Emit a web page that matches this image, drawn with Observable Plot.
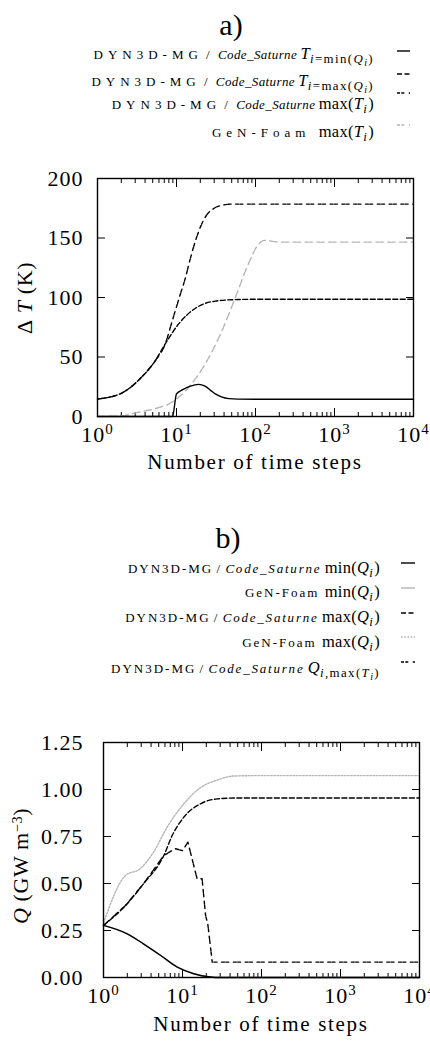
<!DOCTYPE html>
<html><head><meta charset="utf-8">
<script src="https://cdn.jsdelivr.net/npm/d3@7"></script>
<script src="https://cdn.jsdelivr.net/npm/@observablehq/plot@0.6"></script>
<style>
body{margin:0;background:#fff;}
#page{position:relative;width:430px;height:1043px;overflow:hidden;font-family:"Liberation Serif",serif;color:#000;background:#fff;}
.t{position:absolute;white-space:nowrap;}
.title{font-size:30px;line-height:30px;transform:translateX(-50%);}
.xl{font-size:21px;line-height:21px;letter-spacing:1.7px;transform:translateX(-50%);}
.yl{font-size:22px;line-height:22px;letter-spacing:0.6px;transform:translate(-50%,-50%) rotate(-90deg);}
.leg{font-size:13px;line-height:13px;text-align:right;}
.legA .r{letter-spacing:5px;}
.legB .r{letter-spacing:2px;}
.leg .c{letter-spacing:0.4px;}
.legB .c{letter-spacing:1.8px;}
.leg .m{font-size:16.5px;letter-spacing:0.3px;}
.leg sub{font-size:78%;position:relative;top:0.3em;vertical-align:baseline;letter-spacing:1.4px;}
.sw{position:absolute;}
.plot{position:absolute;left:0;}
sup.s{font-size:65%;position:relative;top:-0.45em;vertical-align:baseline;}
</style></head>
<body><div id="page"></div>
<script>
// ---------- data ----------
const xMajor = [1, 10, 100, 1000, 10000];
const xMinor = [2,3,4,5,6,7,8,9,20,30,40,50,60,70,80,90,200,300,400,500,600,700,800,900,2000,3000,4000,5000,6000,7000,8000,9000];
const yTicksA = [0, 50, 100, 150, 200];
const yTicksB = [0, 0.25, 0.5, 0.75, 1.0, 1.25];

// a) temperature rise
const stepsA_TminQ = [1, 8.9, 10, 12, 15, 19, 23, 27, 31, 37, 46, 60, 100, 10000];
const dT_TminQ     = [0, 0, 19, 22.5, 25.5, 27, 25.5, 22, 19, 16.5, 15, 14.6, 14.5, 14.5];
const stepsA_TmaxQ = [1, 2, 3.6, 5.4, 7.2, 10.7, 17.4, 31, 60, 100, 10000];
const dT_TmaxQ     = [14.7, 19.5, 33, 47, 61, 78, 91, 97, 98.3, 98.5, 98.5];
const stepsA_maxT  = [1, 2, 3.6, 5.4, 7.2, 8.8, 11.2, 12.9, 15, 20, 24.5, 30, 40, 48, 100, 10000];
const dT_maxT      = [14.7, 19.5, 33, 47, 61, 80, 103, 116, 133, 159, 170, 175, 177.8, 178.5, 178.5, 178.5];
const stepsA_gfMaxT = [1, 2, 3.3, 5.3, 8.7, 14.3, 23, 37.6, 55.6, 81, 110, 130, 200, 10000];
const dT_gfMaxT     = [0, 0.5, 3.6, 6.5, 12, 24.6, 44, 72, 100, 128, 145, 148, 146.5, 146.5];

// b) power density
const stepsB_minQ  = [1, 2, 3.2, 5.3, 8.6, 13.9, 22.6, 30, 50, 10000];
const Q_minQ       = [0.277, 0.232, 0.179, 0.117, 0.055, 0.02, 0.003, 0, 0, 0];
const stepsB_gfMinQ = [1, 2, 3.2, 5.3, 8.6, 13.9, 22.6, 30, 50, 10000];
const Q_gfMinQ      = [0.277, 0.232, 0.179, 0.117, 0.055, 0.02, 0.003, 0, 0, 0];
const stepsB_maxQ  = [1, 1.9, 3.2, 5.8, 7.4, 10.4, 16.9, 27.5, 54, 100, 10000];
const Q_maxQ       = [0.277, 0.383, 0.498, 0.649, 0.755, 0.853, 0.924, 0.95, 0.955, 0.955, 0.955];
const stepsB_gfMaxQ = [1, 1.9, 2.9, 4.3, 6.4, 10.4, 16.9, 27.5, 45, 100, 10000];
const Q_gfMaxQ      = [0.29, 0.543, 0.578, 0.667, 0.8, 0.924, 1.01, 1.05, 1.072, 1.074, 1.074];
const stepsB_QmaxT = [1, 1.9, 3.2, 5.8, 8.1, 10, 11.7, 15.3, 17.7, 19.6, 20.9, 23.8, 10000];
const Q_QmaxT      = [0.277, 0.383, 0.498, 0.649, 0.685, 0.675, 0.72, 0.525, 0.525, 0.33, 0.285, 0.082, 0.082];

const DYN = '<span class="r">DYN3D-MG</span> <span class="r">/</span> <i class="c">Code_Saturne</i> ';
const GEN = '<span class="r">GeN-Foam </span>';
const legendLabelsA = [
  DYN + '<span class="m"><i>T</i><sub><i>i</i>=min(<i>Q</i><sub><i>i</i></sub>)</sub></span>',
  DYN + '<span class="m"><i>T</i><sub><i>i</i>=max(<i>Q</i><sub><i>i</i></sub>)</sub></span>',
  DYN + '<span class="m">max(<i>T</i><sub><i>i</i></sub>)</span>',
  GEN + '<span class="m">max(<i>T</i><sub><i>i</i></sub>)</span>'
];
const legendLabelsB = [
  DYN + '<span class="m">min(<i>Q</i><sub><i>i</i></sub>)</span>',
  GEN + '<span class="m">min(<i>Q</i><sub><i>i</i></sub>)</span>',
  DYN + '<span class="m">max(<i>Q</i><sub><i>i</i></sub>)</span>',
  GEN + '<span class="m">max(<i>Q</i><sub><i>i</i></sub>)</span>',
  DYN + '<span class="m"><i>Q</i><sub><i>i</i>,max(<i>T</i><sub><i>i</i></sub>)</sub></span>'
];

// ---------- styles ----------
const GRAY = "#b4b4b4";
const solid = null, dashed = "5,2.5", dashdot = "3,1.3,3,4.5", dotted = "1.6,1.6";
const stylesA = [
  {stroke: "black", dash: solid},
  {stroke: "black", dash: dashed},
  {stroke: "black", dash: dashdot},
  {stroke: GRAY, dash: dashdot}
];
const stylesB = [
  {stroke: "black", dash: solid},
  {stroke: GRAY, dash: solid},
  {stroke: "black", dash: dashed},
  {stroke: GRAY, dash: dotted},
  {stroke: "black", dash: dashdot}
];

const tbl = (xs, ys) => xs.map((x, i) => ({x, y: ys[i]}));
const seriesA = [
  tbl(stepsA_TminQ, dT_TminQ), tbl(stepsA_TmaxQ, dT_TmaxQ),
  tbl(stepsA_maxT, dT_maxT), tbl(stepsA_gfMaxT, dT_gfMaxT)
];
const seriesB = [
  tbl(stepsB_minQ, Q_minQ), tbl(stepsB_gfMinQ, Q_gfMinQ),
  tbl(stepsB_maxQ, Q_maxQ), tbl(stepsB_gfMaxQ, Q_gfMaxQ),
  tbl(stepsB_QmaxT, Q_QmaxT)
];
const drawOrderA = [3, 1, 2, 0];
const drawOrderB = [1, 3, 0, 2, 4];
const curvesB = ["monotone-x", "monotone-x", "monotone-x", "monotone-x", "linear"];

function axes(yTicks, yPad, yFmt) {
  const blank = () => "";
  return [
    Plot.axisX({ticks: xMajor, tickSize: -8, tickFormat: blank, label: null}),
    Plot.axisX({ticks: xMinor, tickSize: -4, tickFormat: blank, label: null}),
    Plot.axisX({anchor: "top", ticks: xMajor, tickSize: -8, tickFormat: blank, label: null}),
    Plot.axisX({anchor: "top", ticks: xMinor, tickSize: -4, tickFormat: blank, label: null}),
    Plot.axisX({ticks: xMajor, tickSize: 0, tickPadding: 10, tickFormat: d => String(Math.round(Math.log10(d))), label: null}),
    Plot.axisY({ticks: yTicks, tickSize: -8, tickFormat: blank, label: null}),
    Plot.axisY({anchor: "right", ticks: yTicks, tickSize: -8, tickFormat: blank, label: null}),
    Plot.axisY({ticks: yTicks, tickSize: 0, tickPadding: yPad, tickFormat: yFmt, label: null})
  ];
}

function supTicks(svg) {
  svg.querySelectorAll('g[aria-label="x-axis tick label"] text').forEach(t => {
    const e = t.textContent;
    if (!e) return;
    t.textContent = "";
    const ns = "http://www.w3.org/2000/svg";
    const a = document.createElementNS(ns, "tspan"); a.textContent = "10";
    const b = document.createElementNS(ns, "tspan"); b.textContent = e;
    b.setAttribute("dy", "-8"); b.setAttribute("font-size", "15px");
    t.appendChild(a); t.appendChild(b);
  });
}

const baseStyle = {fontFamily: "'Liberation Serif', serif", fontSize: "22px", letterSpacing: "1px", background: "transparent", color: "black", overflow: "visible"};

const plotA = Plot.plot({
  width: 430, height: 320,
  marginLeft: 97, marginRight: 17, marginTop: 18, marginBottom: 64,
  style: baseStyle,
  x: {type: "log", domain: [1, 1e4]},
  y: {domain: [0, 200]},
  marks: [
    ...axes(yTicksA, 14, d => String(d)),
    ...drawOrderA.map(i => Plot.line(seriesA[i], {x: "x", y: "y", stroke: stylesA[i].stroke, strokeWidth: 1.4, strokeDasharray: stylesA[i].dash, curve: "monotone-x"})),
    Plot.frame({stroke: "black", strokeWidth: 1.4})
  ]
});
const plotB = Plot.plot({
  width: 430, height: 323,
  marginLeft: 103, marginRight: 11, marginTop: 22, marginBottom: 66,
  style: baseStyle,
  x: {type: "log", domain: [1, 1e4]},
  y: {domain: [0, 1.25]},
  marks: [
    ...axes(yTicksB, 20, d => d.toFixed(2)),
    ...drawOrderB.map(i => Plot.line(seriesB[i], {x: "x", y: "y", stroke: stylesB[i].stroke, strokeWidth: 1.4, strokeDasharray: stylesB[i].dash, curve: curvesB[i]})),
    Plot.frame({stroke: "black", strokeWidth: 1.4})
  ]
});
supTicks(plotA); supTicks(plotB);

const page = document.getElementById("page");
function place(el, top) { const w = document.createElement("div"); w.className = "plot"; w.style.top = top + "px"; w.appendChild(el); page.appendChild(w); }
place(plotA, 160);
place(plotB, 720);

function text(cls, html, x, y, right) {
  const d = document.createElement("div");
  d.className = "t " + cls; d.innerHTML = html;
  if (right != null) d.style.right = right + "px"; else d.style.left = x + "px";
  d.style.top = y + "px";
  page.appendChild(d); return d;
}
// titles and axis labels
text("title", "a)", 231, 10);
text("title", "b)", 228, 523);
text("xl", "Number of time steps", 255, 452);
text("xl", "Number of time steps", 261, 1014);
text("yl", "&Delta;&nbsp;<i>T</i> (K)", 25, 298);
text("yl", "<i>Q</i> (GW m<sup class=\"s\">&minus;3</sup>)", 22, 866);

// legends
function swatch(st, x, y, w) {
  const ns = "http://www.w3.org/2000/svg";
  const s = document.createElementNS(ns, "svg");
  s.setAttribute("width", w); s.setAttribute("height", 4);
  s.setAttribute("class", "sw"); s.style.left = x + "px"; s.style.top = (y - 2) + "px";
  const l = document.createElementNS(ns, "line");
  l.setAttribute("x1", 0); l.setAttribute("x2", w); l.setAttribute("y1", 2); l.setAttribute("y2", 2);
  l.setAttribute("stroke", st.stroke); l.setAttribute("stroke-width", 1.4);
  if (st.dash) l.setAttribute("stroke-dasharray", st.dash);
  s.appendChild(l); page.appendChild(s);
}
const baseA = [57, 84, 107, 135], swA = [51, 74, 93, 125];
legendLabelsA.forEach((h, i) => { text("leg legA", h, null, baseA[i] - 10, 56); swatch(stylesA[i], 397, swA[i], 13); });
const baseB = [571, 595, 620, 645, 671], swB = [563, 588, 613, 637, 662];
legendLabelsB.forEach((h, i) => { text("leg legB", h, null, baseB[i] - 10, 50); swatch(stylesB[i], 401, swB[i], 14); });
</script></body></html>
